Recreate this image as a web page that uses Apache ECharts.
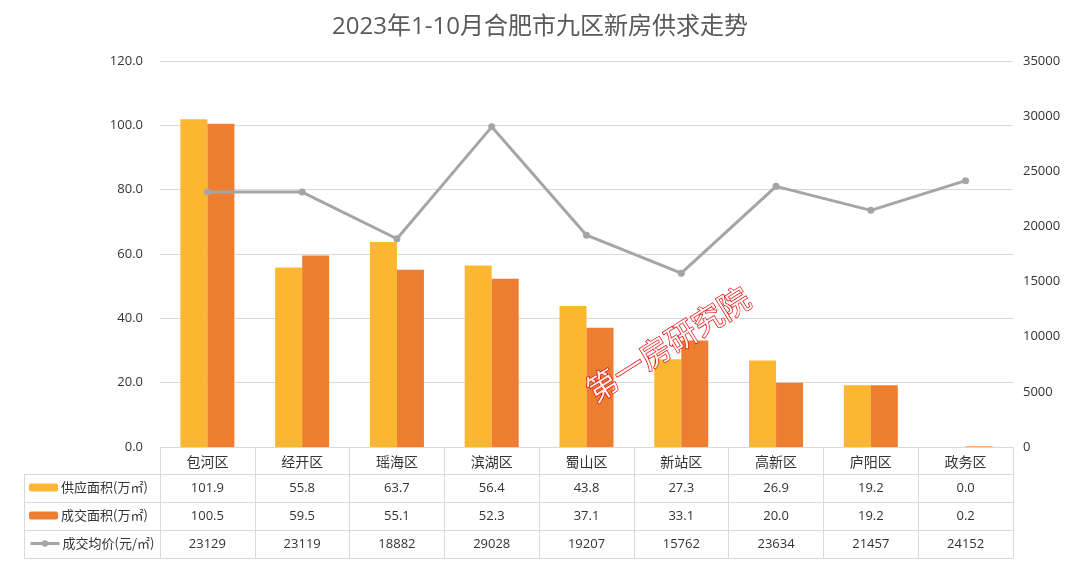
<!DOCTYPE html>
<html><head><meta charset="utf-8">
<script src="https://cdn.jsdelivr.net/npm/echarts@6/dist/echarts.min.js"></script>
<style>html,body{margin:0;padding:0;background:#fff}#c{width:1080px;height:566px}</style>
</head><body><div id="c"></div>
<script>
const categories = ['包河区','经开区','瑶海区','滨湖区','蜀山区','新站区','高新区','庐阳区','政务区'];
const supplyArea = [101.9, 55.8, 63.7, 56.4, 43.8, 27.3, 26.9, 19.2, 0.0];
const dealArea = [100.5, 59.5, 55.1, 52.3, 37.1, 33.1, 20.0, 19.2, 0.2];
const avgPrice = [23129, 23119, 18882, 29028, 19207, 15762, 23634, 21457, 24152];
const seriesNames = ['供应面积(万㎡)', '成交面积(万㎡)', '成交均价(元/㎡)'];

const FONT = '"Open Sans", "Noto Sans CJK SC", sans-serif';
const CJK = '"Noto Sans CJK SC", sans-serif';
const GRID_L = 160, GRID_R = 1013, GRID_T = 61, GRID_B = 447;
const ROW = 28;
const lineC = '#D9D9D9';
const txt = '#333';

function valueAxis(offset, data) {
  return {
    type: 'category', data: data, gridIndex: 0, position: 'bottom', offset: offset,
    axisLine: {show: false}, axisTick: {show: false},
    axisLabel: {interval: 0, margin: 7, fontSize: 13, color: txt, fontFamily: FONT}
  };
}

const chart = echarts.init(document.getElementById('c'));
const hLines = [];
for (let i = 1; i <= 4; i++) {
  hLines.push({type: 'line', silent: true, shape: {x1: 24, y1: GRID_B + ROW * i - 0.5, x2: GRID_R, y2: GRID_B + ROW * i - 0.5},
    style: {stroke: lineC, lineWidth: 1}});
}
hLines.push({type: 'line', silent: true, shape: {x1: 24.5, y1: GRID_B + ROW - 0.5, x2: 24.5, y2: GRID_B + ROW * 4 - 0.5},
  style: {stroke: lineC, lineWidth: 1}});

chart.setOption({
  backgroundColor: '#fff',
  animation: false,
  title: {text: '2023年1-10月合肥市九区新房供求走势', left: 'center', top: 10,
    textStyle: {fontSize: 24, fontWeight: 'normal', color: '#595959', fontFamily: FONT}},
  grid: {left: GRID_L, right: 1080 - GRID_R, top: GRID_T, bottom: 566 - GRID_B, containLabel: false},
  legend: [0, 1, 2].map(i => ({
    data: [seriesNames[i]], left: 29, top: GRID_B + ROW * (i + 1) + 6,
    itemWidth: 29, itemHeight: 8, itemGap: 3, padding: 0, selectedMode: false,
    lineStyle: {width: 3},
    textStyle: {fontSize: 13, color: txt, fontFamily: CJK, padding: [0, 0, 0, -2]}
  })),
  xAxis: [
    {type: 'category', data: categories, position: 'bottom',
      axisLine: {show: true, lineStyle: {color: lineC, width: 1}},
      axisTick: {show: true, interval: 0, length: ROW * 4 - 1, lineStyle: {color: lineC, width: 1}},
      axisLabel: {interval: 0, margin: 8, fontSize: 14, color: txt, fontFamily: CJK}},
    valueAxis(ROW, supplyArea.map(v => v.toFixed(1))),
    valueAxis(ROW * 2, dealArea.map(v => v.toFixed(1))),
    valueAxis(ROW * 3, avgPrice.map(v => String(v)))
  ],
  yAxis: [
    {type: 'value', min: 0, max: 120, interval: 20,
      axisLine: {show: false}, axisTick: {show: false},
      splitLine: {lineStyle: {color: lineC, width: 1}},
      axisLabel: {formatter: v => v.toFixed(1), fontSize: 13, color: txt, margin: 17, fontFamily: FONT}},
    {type: 'value', min: 0, max: 35000, interval: 5000,
      axisLine: {show: false}, axisTick: {show: false}, splitLine: {show: false},
      axisLabel: {formatter: v => String(v), fontSize: 13, color: txt, margin: 10, fontFamily: FONT}}
  ],
  series: [
    {name: seriesNames[0], type: 'bar', data: supplyArea, barWidth: 27, barGap: '0%',
      itemStyle: {color: '#FBB731'}, xAxisIndex: 0, yAxisIndex: 0},
    {name: seriesNames[1], type: 'bar', data: dealArea, barWidth: 27,
      itemStyle: {color: '#ED7D31'}, xAxisIndex: 0, yAxisIndex: 0},
    {name: seriesNames[2], type: 'line', data: avgPrice, xAxisIndex: 0, yAxisIndex: 1,
      symbol: 'circle', symbolSize: 7, lineStyle: {color: '#A5A5A5', width: 3},
      itemStyle: {color: '#A5A5A5'}}
  ],
  graphic: hLines.concat([
    {type: 'text', x: 668, y: 344, rotation: 32 * Math.PI / 180, z: 100,
      style: {text: '第一房研究院', fontSize: 31, fontFamily: CJK, fill: 'rgba(255,255,255,0.9)',
        stroke: '#E00000', lineWidth: 1.3, align: 'center', verticalAlign: 'middle'}}
  ])
});
</script></body></html>
